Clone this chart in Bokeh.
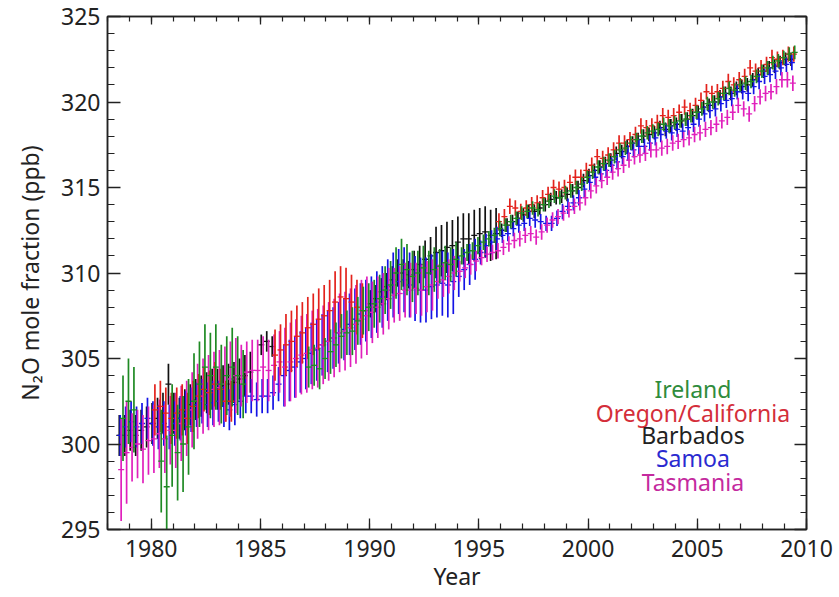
from bokeh.plotting import figure
from bokeh.models import (Range1d, LinearAxis, FixedTicker, Label,
                          ColumnDataSource, CustomJSTickFormatter)
from bokeh.embed import file_html
from bokeh.resources import INLINE

FIRST_YEAR = 1978
# Quarterly mean N2O mole fractions (ppb): [year, Q1, Q2, Q3, Q4]; None = no data
ireland = [
    [1978, None, None, 301.5, 302.5], [1979, 302.0, None, None, None],
    [1980, None, 299.0, 297.5, 300.5], [1981, 299.5, 300.0, 301.0, 302.5],
    [1982, 303.5, 304.5, 304.0, 304.5], [1983, 303.5, 304.0, 304.5, 304.0],
    [1984, 303.5, None, None, None],
    [1987, 304.5, 304.6, 304.4, 305.0], [1988, 305.4, 305.8, 306.3, 306.5],
    [1989, 306.6, 307.2, 307.8, 308.0], [1990, 308.2, 308.5, 309.0, 309.3],
    [1991, 310.0, 310.5, 310.2, 309.8], [1992, 310.0, 310.3, 310.0, 310.2],
    [1993, 310.4, 310.6, 310.5, 310.8], [1994, 311.0, 311.2, 311.3, 311.6],
    [1995, 311.8, 312.0, 312.2, 312.6], [1996, 312.8, 313.0, 313.2, 313.5],
    [1997, 313.6, 313.8, 313.7, 314.0], [1998, 314.2, 314.5, 314.4, 314.7],
    [1999, 314.8, 315.0, 315.2, 315.6], [2000, 315.9, 316.2, 316.4, 316.6],
    [2001, 316.8, 317.2, 317.3, 317.6], [2002, 317.8, 318.0, 318.2, 318.3],
    [2003, 318.4, 318.7, 318.6, 318.8], [2004, 318.9, 319.0, 319.2, 319.4],
    [2005, 319.6, 319.9, 320.0, 320.2], [2006, 320.5, 320.8, 320.7, 321.0],
    [2007, 321.1, 321.2, 321.5, 321.8], [2008, 322.0, 322.3, 322.4, 322.6],
    [2009, 322.8, 322.9, None, None],
]
oregon = [
    [1980, 302.0, 302.2, 301.8, 301.5], [1981, 301.8, 302.0, 301.5, 302.2],
    [1982, 302.8, 303.2, 303.0, 303.5], [1983, 303.2, 302.5, 302.5, None],
    [1985, None, None, 305.2, 305.5], [1986, 305.8, 306.0, 306.3, 306.5],
    [1987, 306.8, 307.0, 307.3, 307.5], [1988, 307.8, 308.3, 308.6, 308.5],
    [1989, 308.3, 308.0, 307.8, None],
    [1995, None, None, None, 313.0], [1996, 313.3, 313.9, 313.8, 313.6],
    [1997, 313.8, 314.0, 314.1, 314.4], [1998, 314.6, 315.0, 314.9, 315.0],
    [1999, 315.3, 315.6, 315.6, 316.0], [2000, 316.3, 316.8, 316.7, 316.9],
    [2001, 317.2, 317.6, 317.6, 317.8], [2002, 318.1, 318.6, 318.5, 318.6],
    [2003, 318.8, 319.2, 319.1, 319.2], [2004, 319.4, 319.7, 319.5, 319.8],
    [2005, 320.1, 320.6, 320.5, 320.6], [2006, 320.8, 321.2, 321.0, 321.3],
    [2007, 321.5, 322.0, 321.8, 322.0], [2008, 322.2, 322.6, 322.5, 322.6],
    [2009, 322.8, 322.8, None, None],
]
barbados = [
    [1978, None, None, 300.5, 300.5], [1979, 300.8, 300.5, 300.8, 301.0],
    [1980, 301.2, 301.5, 301.8, 303.5], [1981, 301.8, 301.5, 302.0, 302.3],
    [1982, 302.6, 302.8, 303.0, 303.2], [1983, 303.2, 303.4, 303.5, 303.6],
    [1984, 303.8, 304.0, 304.2, None], [1985, 305.8, 306.0, 305.7, None],
    [1990, 308.2, 308.5, 308.9, 309.2], [1991, 309.6, 310.0, 310.0, 309.9],
    [1992, 310.2, 310.5, 310.8, 311.0], [1993, 311.2, 311.3, 311.5, 311.6],
    [1994, 311.8, 312.0, 312.0, 312.2], [1995, 312.3, 312.4, 312.2, 312.3],
    [1996, 312.5, 312.8, 313.0, 313.2], [1997, 313.4, 313.6, 313.6, 313.8],
    [1998, 314.0, 314.3, 314.4, 314.5], [1999, 314.6, 314.8, 315.0, 315.4],
    [2000, 315.7, 316.0, 316.2, 316.4], [2001, 316.6, 317.0, 317.1, 317.4],
    [2002, 317.6, 317.8, 318.0, 318.1], [2003, 318.2, 318.5, 318.4, 318.6],
    [2004, 318.7, 318.9, 319.0, 319.2], [2005, 319.4, 319.7, 319.8, 320.0],
    [2006, 320.3, 320.5, 320.5, 320.8], [2007, 320.9, 321.0, 321.3, 321.6],
    [2008, 321.8, 322.0, 322.1, 322.3], [2009, 322.5, 322.5, None, None],
]
samoa = [
    [1978, None, None, 300.5, 301.0], [1979, 301.3, 301.0, 301.2, 301.5],
    [1980, 301.2, 301.0, 301.2, 301.0], [1981, 301.2, 301.5, 301.8, 302.0],
    [1982, 302.3, 302.5, 302.3, 302.4], [1983, 302.5, 302.2, 302.0, 302.3],
    [1984, 302.5, 302.8, 302.8, 302.6], [1985, 302.8, 302.8, 303.0, 303.5],
    [1986, 304.0, 304.3, 304.5, 304.8], [1987, 305.0, 305.3, 305.5, 305.8],
    [1988, 306.0, 306.2, 306.5, 306.7], [1989, 307.0, 307.3, 307.6, 307.8],
    [1990, 308.0, 308.3, 308.6, 309.0], [1991, 309.3, 309.5, 309.6, 309.3],
    [1992, 309.1, 309.0, 309.0, 309.2], [1993, 309.3, 309.4, 309.3, 309.5],
    [1994, 309.8, 310.2, 310.5, 310.8], [1995, 311.2, 311.6, 311.8, 312.0],
    [1996, 312.2, 312.3, 312.6, 312.8], [1997, 312.9, 313.2, 313.1, 313.0],
    [1998, 312.9, 312.9, 313.2, 313.6], [1999, 313.9, 314.1, 314.4, 314.9],
    [2000, 315.3, 315.6, 315.8, 316.0], [2001, 316.3, 316.5, 316.8, 317.0],
    [2002, 317.2, 317.4, 317.4, 317.6], [2003, 317.9, 318.1, 318.3, 318.2],
    [2004, 318.4, 318.3, 318.5, 318.7], [2005, 319.0, 319.3, 319.5, 319.6],
    [2006, 319.9, 320.1, 320.2, 320.6], [2007, 320.6, 320.5, 320.9, 321.2],
    [2008, 321.5, 321.6, 321.8, 322.0], [2009, 322.2, 322.3, None, None],
]
tasmania = [
    [1978, None, None, 298.5, 299.5], [1979, 299.8, 300.0, 299.7, 300.2],
    [1980, 300.3, 300.6, 300.3, 300.8], [1981, 300.8, 301.2, 301.5, 302.0],
    [1982, 302.5, 302.8, 303.0, 303.2], [1983, 303.3, 303.5, 303.8, 304.0],
    [1984, 304.0, 304.2, 304.3, 304.3], [1985, 304.5, 304.3, 304.6, 304.8],
    [1986, 304.5, 304.8, 305.0, 305.2], [1987, 305.3, 305.5, 305.6, 305.8],
    [1988, 306.0, 306.2, 306.5, 306.6], [1989, 306.8, 307.0, 307.3, 307.5],
    [1990, 307.7, 308.0, 308.2, 308.5], [1991, 308.7, 308.8, 309.0, 309.0],
    [1992, 309.1, 309.0, 309.2, 309.3], [1993, 309.5, 309.6, 309.8, 310.0],
    [1994, 310.1, 310.3, 310.5, 310.7], [1995, 310.9, 311.1, 311.2, 311.3],
    [1996, 311.5, 311.7, 311.9, 312.0], [1997, 312.2, 312.3, 312.1, 312.4],
    [1998, 312.8, 313.1, 313.3, 313.5], [1999, 313.7, 313.9, 314.1, 314.4],
    [2000, 314.8, 315.1, 315.4, 315.6], [2001, 315.9, 316.1, 316.3, 316.6],
    [2002, 316.8, 316.9, 317.0, 317.2], [2003, 317.2, 317.3, 317.4, 317.6],
    [2004, 317.7, 317.8, 317.9, 318.1], [2005, 318.2, 318.4, 318.5, 318.7],
    [2006, 318.9, 319.1, 319.4, 319.8], [2007, 319.6, 319.3, 319.9, 320.3],
    [2008, 320.5, 320.6, 320.9, 321.3], [2009, 321.3, 321.1, None, None],
]
# Error-bar half widths (ppb), one per year 1978..2009
ireland_err = [2.5, 2.5, 3.0, 2.8, 2.5, 2.3, 2.0, 0.0, 0.0, 1.2, 1.3, 1.4, 1.4, 1.5, 1.3, 1.0,
               0.5, 0.45, 0.4, 0.4, 0.4, 0.4, 0.4, 0.4, 0.4, 0.4, 0.4, 0.4, 0.4, 0.4, 0.4, 0.4]
oregon_err = [0.0, 0.0, 1.5, 1.5, 1.3, 1.2, 1.2, 1.5, 1.8, 1.8, 1.8, 1.6, 0.0, 0.0, 0.0, 0.0,
              0.0, 0.5, 0.45, 0.45, 0.45, 0.45, 0.45, 0.45, 0.45, 0.45, 0.45, 0.45, 0.45, 0.45, 0.45, 0.45]
barbados_err = [1.2, 1.2, 1.2, 1.2, 1.2, 1.2, 1.2, 0.6, 0.0, 0.0, 0.0, 0.0, 0.8, 0.8, 1.1, 1.5,
                1.5, 1.5, 0.4, 0.4, 0.4, 0.4, 0.4, 0.4, 0.4, 0.4, 0.4, 0.4, 0.4, 0.4, 0.4, 0.4]
samoa_err = [1.2, 1.2, 1.3, 1.3, 1.3, 1.2, 1.0, 1.0, 1.8, 1.8, 1.8, 1.8, 1.8, 1.9, 1.9, 1.9,
             1.2, 0.7, 0.45, 0.45, 0.45, 0.45, 0.45, 0.45, 0.45, 0.45, 0.45, 0.45, 0.45, 0.45, 0.45, 0.45]
tasmania_err = [3.0, 2.0, 2.0, 2.2, 2.2, 2.2, 1.8, 1.8, 2.3, 2.3, 2.3, 2.3, 1.8, 1.6, 1.5, 1.0,
                0.6, 0.45, 0.45, 0.45, 0.45, 0.45, 0.45, 0.45, 0.45, 0.45, 0.45, 0.45, 0.45, 0.45, 0.45, 0.45]

stations = ["Barbados", "Samoa", "Tasmania", "Oregon/California", "Ireland"]  # drawing order
legend_order = ["Ireland", "Oregon/California", "Barbados", "Samoa", "Tasmania"]
data_rows = {"Ireland": ireland, "Oregon/California": oregon, "Barbados": barbados,
             "Samoa": samoa, "Tasmania": tasmania}
errors = {"Ireland": ireland_err, "Oregon/California": oregon_err, "Barbados": barbados_err,
          "Samoa": samoa_err, "Tasmania": tasmania_err}
# sampling month within each quarter (fraction of a year)
sample_offset = {"Barbados": 0.04, "Samoa": 0.08, "Tasmania": 0.125, "Oregon/California": 0.17, "Ireland": 0.21}
colors = {"Ireland": "#1f8a24", "Oregon/California": "#e3221c", "Barbados": "#111111",
          "Samoa": "#1414e6", "Tasmania": "#e020bc"}
text_colors = {"Ireland": "#2f8c3c", "Oregon/California": "#d42e3a", "Barbados": "#222222",
               "Samoa": "#2a2ad0", "Tasmania": "#c42a9e"}

y_major = [295, 300, 305, 310, 315, 320, 325]
y_minor = list(range(295, 326))
x_major = [1980, 1985, 1990, 1995, 2000, 2005, 2010]
x_minor = list(range(1978, 2011))

FONT = "Noto Sans"
TXT = "#222222"

p = figure(width=839, height=597, x_range=Range1d(1978, 2010), y_range=Range1d(295, 325),
           output_backend="svg", toolbar_location=None,
           min_border_left=107, min_border_right=33, min_border_top=16, min_border_bottom=68)
p.grid.visible = False
p.outline_line_color = "#222222"
p.outline_line_width = 1.5
p.background_fill_color = "white"

for name in stations:
    t, v, lo, hi = [], [], [], []
    err = errors[name]
    for row in data_rows[name]:
        yr = row[0]
        for q, val in enumerate(row[1:]):
            if val is None:
                continue
            e = err[yr - FIRST_YEAR]
            t.append(yr + 0.25 * q + sample_offset[name])
            v.append(val)
            lo.append(val - e)
            hi.append(val + e)
    src = ColumnDataSource(dict(t=t, v=v, lo=lo, hi=hi))
    p.segment(x0="t", y0="lo", x1="t", y1="hi", source=src, line_color=colors[name], line_width=1.7)
    p.scatter(x="t", y="v", source=src, marker="dash", size=6, line_color=colors[name], line_width=1.3)


def style_axis(ax, labels=True, major=12, minor=6):
    ax.axis_line_color = "#222222"
    ax.axis_line_width = 1.5
    ax.major_tick_line_color = "#222222"
    ax.minor_tick_line_color = "#222222"
    ax.major_tick_line_width = 1.3
    ax.minor_tick_line_width = 1.2
    ax.major_tick_in = major
    ax.major_tick_out = 0
    ax.minor_tick_in = minor
    ax.minor_tick_out = 0
    if labels:
        ax.major_label_text_font = FONT
        ax.major_label_text_font_size = "23px"
        ax.major_label_text_color = TXT
        ax.axis_label_text_font = FONT
        ax.axis_label_text_font_size = "23px"
        ax.axis_label_text_font_style = "normal"
        ax.axis_label_text_color = TXT
    else:
        ax.formatter = CustomJSTickFormatter(code="return ''")
        ax.major_label_standoff = 0


xa = p.xaxis[0]
xa.ticker = FixedTicker(ticks=x_major, minor_ticks=x_minor)
xa.axis_label = "Year"
style_axis(xa, major=11, minor=6)
xa.major_label_standoff = 10
xa.axis_label_standoff = 0

ya = p.yaxis[0]
ya.ticker = FixedTicker(ticks=y_major, minor_ticks=y_minor)
ya.axis_label = "N\u2082O mole fraction (ppb)"
style_axis(ya, major=13, minor=7)
ya.major_label_standoff = 7
ya.axis_label_standoff = 12

top = LinearAxis(ticker=FixedTicker(ticks=x_major, minor_ticks=x_minor))
style_axis(top, labels=False, major=8, minor=5)
p.add_layout(top, "above")
right = LinearAxis(ticker=FixedTicker(ticks=y_major, minor_ticks=y_minor))
style_axis(right, labels=False, major=12, minor=6)
p.add_layout(right, "right")

# legend text (station names in their colours)
legend_x = 2004.8
legend_y = [303.2, 301.83, 300.50, 299.16, 297.77]
for name, yv in zip(legend_order, legend_y):
    p.add_layout(Label(x=legend_x, y=yv, text=name, text_align="center", text_baseline="middle",
                       text_font=FONT, text_font_size="23px", text_color=text_colors[name]))

open("out.html", "w").write(file_html(p, INLINE))
